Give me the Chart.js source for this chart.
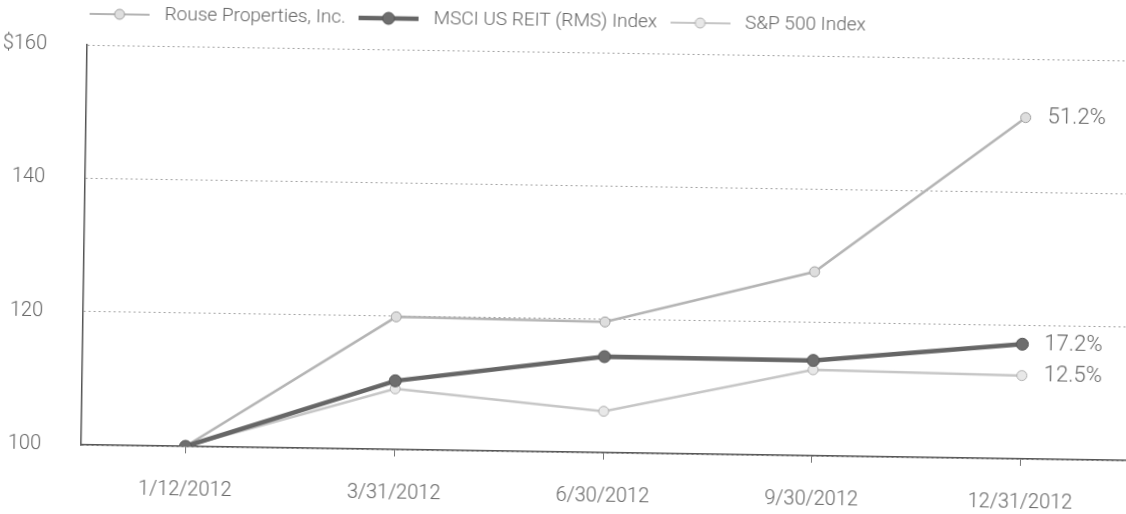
<!DOCTYPE html>
<html>
<head>
<meta charset="utf-8">
<script src="https://cdn.jsdelivr.net/npm/chart.js@4.4.0/dist/chart.umd.min.js"></script>
<style>
html, body { margin: 0; padding: 0; background: #fff; overflow: hidden; width: 1126px; height: 514px; }
#wrap { position: absolute; left: 0; top: 0; width: 1135px; height: 514px; transform: rotate(0.86deg); transform-origin: 563px 257px; }
canvas { display: block; }
</style>
</head>
<body>
<div id="wrap"><canvas id="lineChart" width="1135" height="514"></canvas></div>
<script>
const dates = ['1/12/2012', '3/31/2012', '6/30/2012', '9/30/2012', '12/31/2012'];
const rouse = [100, 119.9, 119.6, 127.6, 151.2];
const msci = [100, 110.3, 114.4, 114.3, 117.2];
const sp500 = [100, 109.1, 106.2, 112.9, 112.5];
const seriesNames = ['Rouse Properties, Inc.', 'MSCI US REIT (RMS) Index', 'S&P 500 Index'];
const endLabels = ['51.2%', '17.2%', '12.5%'];
const yTicks = [100, 120, 140, 160];
const yTickText = ['100', '120', '140', '$160'];

const textFont = { family: 'Roboto', size: 20, weight: '300' };

// little line + dot sample for the legend
function legendMarker(color, lineWidth, radius, fill, edge){
    const c = document.createElement('canvas');
    c.width = 60;
    c.height = 16;
    const ctx = c.getContext('2d');
    ctx.strokeStyle = color;
    ctx.lineWidth = lineWidth;
    ctx.beginPath();
    ctx.moveTo(0, 8);
    ctx.lineTo(60, 8);
    ctx.stroke();
    ctx.beginPath();
    ctx.arc(30, 8, radius, 0, Math.PI * 2);
    ctx.fillStyle = fill;
    ctx.fill();
    ctx.lineWidth = 1;
    ctx.strokeStyle = edge;
    ctx.stroke();
    return c;
}

const markers = [
    legendMarker('#b4b4b4', 2, 5, '#dedede', '#a0a0a0'),
    legendMarker('#666666', 4.5, 6, '#6e6e6e', '#555555'),
    legendMarker('#c6c6c6', 2, 5, '#e8e8e8', '#b0b0b0')
];

// one-row legend across the top, left edge just right of the y axis
const topLegend = {
    id: 'topLegend',
    afterDraw(chart){
        const ctx = chart.ctx;
        ctx.save();
        ctx.font = '300 19px Roboto';
        ctx.fillStyle = '#666';
        ctx.textBaseline = 'middle';
        ctx.textAlign = 'left';
        let x = chart.chartArea.left + 2;
        const y = 21;
        chart.data.datasets.forEach((ds, i) => {
            ctx.drawImage(markers[i], x, y - 8);
            x += 75;
            ctx.fillText(ds.label, x, y);
            x += ctx.measureText(ds.label).width + 13;
        });
        ctx.restore();
    }
};

const endLabelPlugin = {
    id: 'endLabels',
    afterDatasetsDraw(chart){
        const ctx = chart.ctx;
        ctx.save();
        ctx.font = '300 22px Roboto';
        ctx.fillStyle = '#666';
        ctx.textBaseline = 'middle';
        ctx.textAlign = 'left';
        chart.data.datasets.forEach((ds, i) => {
            const meta = chart.getDatasetMeta(i);
            const pt = meta.data[meta.data.length - 1];
            ctx.fillText(endLabels[i], pt.x + 22, pt.y);
        });
        ctx.restore();
    }
};

const line_data = {
    labels: dates,
    datasets: [
        {
            label: seriesNames[0],
            data: rouse,
            borderColor: '#b4b4b4',
            borderWidth: 2.5,
            pointRadius: 5,
            pointBackgroundColor: '#dedede',
            pointBorderColor: '#a0a0a0',
            pointBorderWidth: 1,
            order: 1
        },
        {
            label: seriesNames[1],
            data: msci,
            borderColor: '#666666',
            borderWidth: 4.5,
            pointRadius: 6,
            pointBackgroundColor: '#6e6e6e',
            pointBorderColor: '#555555',
            pointBorderWidth: 1,
            order: 0
        },
        {
            label: seriesNames[2],
            data: sp500,
            borderColor: '#c6c6c6',
            borderWidth: 2.5,
            pointRadius: 5,
            pointBackgroundColor: '#e8e8e8',
            pointBorderColor: '#b0b0b0',
            pointBorderWidth: 1,
            order: 2
        }
    ]
};

const line_config = {
    type: 'line',
    data: line_data,
    plugins: [topLegend, endLabelPlugin],
    options: {
        responsive: false,
        animation: false,
        layout: { padding: { top: 32 } },
        elements: { line: { tension: 0 } },
        plugins: {
            tooltip: { enabled: false },
            legend: { display: false }
        },
        scales: {
            x: {
                offset: true,
                afterFit(scale){ scale.height = 62; },
                grid: { display: true, drawOnChartArea: false, drawTicks: true, tickLength: 7, tickColor: '#777', offset: false },
                border: { display: true, color: '#555', width: 1.5 },
                ticks: { color: '#666', font: textFont, padding: 25, maxRotation: 0, autoSkip: false }
            },
            y: {
                min: 100,
                max: 160,
                afterBuildTicks(scale){ scale.ticks = yTicks.map(v => ({ value: v })); },
                afterFit(scale){ scale.width = 84; },
                grid: { color: '#a0a0a0', lineWidth: 1, drawTicks: false },
                border: { display: true, color: '#555', width: 1.5, dash: [2, 3] },
                ticks: {
                    color: '#666',
                    font: textFont,
                    padding: 40,
                    callback: (v) => yTickText[yTicks.indexOf(v)]
                }
            }
        }
    }
};

const line_ctx = document.getElementById('lineChart').getContext('2d');
const lineChart = new Chart(line_ctx, line_config);
</script>
</body>
</html>
